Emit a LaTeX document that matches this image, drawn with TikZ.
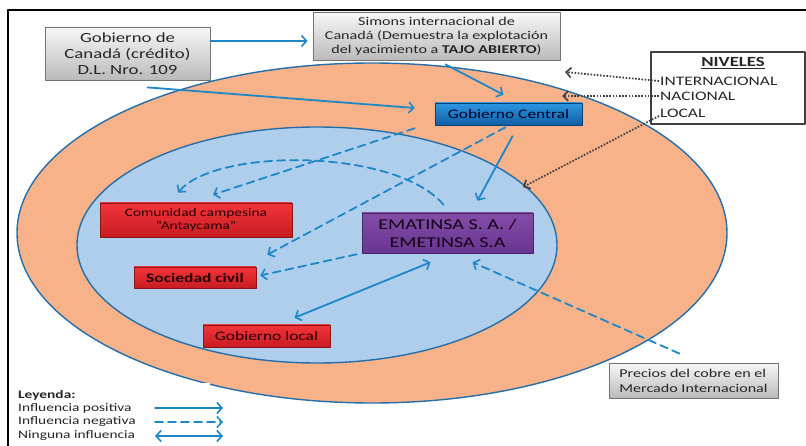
\documentclass[tikz,border=0pt]{standalone}
\usepackage{fontspec}
\setmainfont{Carlito}[FakeStretch=1.34]
\usetikzlibrary{arrows.meta,shadows}

\definecolor{naranja}{RGB}{248,178,138}
\definecolor{celeste}{RGB}{174,206,235}
\definecolor{borde}{RGB}{36,110,170}
\definecolor{flecha}{RGB}{30,135,200}
\definecolor{rojoA}{RGB}{242,52,58}
\definecolor{rojoB}{RGB}{200,28,34}
\definecolor{azulA}{RGB}{45,150,225}
\definecolor{azulB}{RGB}{15,95,165}
\definecolor{moradoA}{RGB}{132,76,168}
\definecolor{moradoB}{RGB}{104,54,144}

\begin{document}
\begin{tikzpicture}[x=1pt, y=-1pt, line cap=round, line join=round,
  punta/.tip={Straight Barb[length=5pt, width=11pt, line width=1.6pt]},
  caja/.style={rectangle, inner sep=0pt, align=center,
    drop shadow={shadow xshift=1.2pt, shadow yshift=-1.2pt, opacity=.35}},
  cajagris/.style={caja, draw=black!55, line width=0.8pt, top color=black!3, bottom color=black!27, text=black!85},
  cajaroja/.style={caja, draw=rojoB!70!black, line width=0.5pt, top color=rojoA, bottom color=rojoB, text=black!85!red},
  cajaazul/.style={caja, draw=azulB!70!black, line width=0.5pt, top color=azulA, bottom color=azulB, text=black!85!blue},
  cajamorada/.style={caja, draw=moradoB!70!black, line width=0.5pt, top color=moradoA, bottom color=moradoB, text=black!85!violet},
  positiva/.style={draw=flecha, line width=1.8pt, -punta},
  negativa/.style={positiva, dash pattern=on 8pt off 5pt},
  ninguna/.style={positiva, punta-punta},
  nivel/.style={draw=black!75, line width=1.8pt, dash pattern=on 1.6pt off 1.6pt, line cap=butt,
    -{Straight Barb[length=5pt, width=10pt, line width=1.6pt]}},
  texto/.style={inner sep=1pt, text=black!85}]
  \useasboundingbox (0,0) rectangle (806,446);

  % Frame of the figure
  \draw[line width=2pt] (8,446) -- (8,10) -- (806,10);

  % Levels: outer and inner ellipse
  \draw[borde, line width=1.4pt, fill=naranja] (372,233) ellipse [x radius=355, y radius=170];
  \draw[borde, line width=1.4pt, fill=celeste] (317,245) ellipse [x radius=240, y radius=118];
  \fill[white] (9,383) rectangle (210,446);

  % Actors
  \node[cajagris, minimum width=165, minimum height=53, font=\fontsize{14}{16}\selectfont] (canada) at (127.5,53.5)
    {Gobierno de\\ Canadá (crédito)\\ D.L. Nro. 109};
  \node[cajagris, minimum width=247, minimum height=48, font=\fontsize{12}{14}\selectfont] (simons) at (436.5,36)
    {Simons internacional de\\ Canadá (Demuestra la explotación\\ del yacimiento a \textbf{TAJO ABIERTO})};
  \node[cajaazul, minimum width=147, minimum height=22, font=\fontsize{13}{15}\selectfont] (central) at (508.5,114)
    {Gobierno Central};
  \node[cajamorada, minimum width=171, minimum height=40, font=\fontsize{15}{18}\selectfont] (ematinsa) at (447.5,233)
    {EMATINSA S. A. /\\ EMETINSA S.A};
  \node[cajaroja, minimum width=192, minimum height=34, font=\fontsize{11.5}{13}\selectfont] (comunidad) at (196,220)
    {Comunidad campesina\\ “Antaycama”};
  \node[cajaroja, minimum width=122, minimum height=21, font=\fontsize{13}{15}\selectfont\bfseries] (sociedad) at (195,277.5)
    {Sociedad civil};
  \node[cajaroja, minimum width=127, minimum height=22, font=\fontsize{13}{15}\selectfont] (local) at (266.5,336)
    {Gobierno local};
  \node[cajagris, minimum width=169, minimum height=35, align=left, font=\fontsize{12}{15}\selectfont] (precios) at (693.5,380.5)
    {Precios del cobre en el\\ Mercado Internacional};

  % Box of levels
  \node[draw=black!75, line width=1.2pt, fill=white, minimum width=154, minimum height=72,
    drop shadow={shadow xshift=1pt, shadow yshift=-1pt, opacity=.3}] (niveles) at (728,88) {};
  \node[texto, font=\fontsize{14}{16}\selectfont\bfseries] (nivtit) at (733,63) {\underline{NIVELES}};
  \node[texto, anchor=west, font=\fontsize{13}{15}\selectfont] (lvint) at (659,81) {INTERNACIONAL};
  \node[texto, anchor=west, font=\fontsize{13}{15}\selectfont] (lvnac) at (659,96) {NACIONAL};
  \node[texto, anchor=west, font=\fontsize{13}{15}\selectfont] (lvloc) at (659,113) {LOCAL};
  \coordinate (intl) at (565,72);
  \coordinate (nacl) at (562,96);
  \coordinate (locl) at (523,187);
  \draw[nivel] (lvint.west) -- (intl);
  \draw[nivel] (lvnac.west) -- (nacl);
  \draw[nivel] ([yshift=-3pt]lvloc.west) -- (locl);

  % Positive influence
  \draw[positiva] ([yshift=12.5pt]canada.east) -- ([xshift=-5pt, yshift=-5pt]simons.west);
  \draw[positiva] ([xshift=20pt, yshift=-7pt]canada.south) -- ([xshift=-20pt, yshift=6pt]central.west);
  \draw[positiva] ([xshift=9pt, yshift=-4pt]simons.south) -- ([xshift=-5pt, yshift=8pt]central.north);
  \draw[positiva] ([xshift=4pt, yshift=-11pt]central.south) -- ([xshift=30pt, yshift=12pt]ematinsa.north);

  % Negative influence (dashed)
  \draw[negativa] ([xshift=-20pt, yshift=-3pt]central.south west) -- ([xshift=17pt, yshift=8pt]comunidad.north);
  \draw[negativa] ([xshift=-3pt, yshift=-2pt]central.south) -- ([xshift=11pt, yshift=12pt]sociedad.north east);
  \draw[negativa] ([xshift=-4pt, yshift=8pt]ematinsa.north) .. controls +(-48,-57) and +(37,-45) .. ([xshift=-18pt, yshift=10pt]comunidad.north);
  \draw[negativa] ([xshift=-5pt, yshift=-1pt]ematinsa.south west) -- ([xshift=4pt, yshift=2pt]sociedad.east);
  \draw[negativa] ([xshift=-14pt, yshift=9pt]precios.north) -- ([xshift=25pt, yshift=-9pt]ematinsa.south);

  % No influence (both ways)
  \draw[ninguna] ([xshift=28pt, yshift=7pt]local.north) -- ([xshift=-17pt, yshift=-9pt]ematinsa.south);

  % Legend
  \node[texto, anchor=west, font=\fontsize{11.5}{13}\selectfont\bfseries] (leyenda) at (17,395) {Leyenda:};
  \node[texto, anchor=west, font=\fontsize{11.5}{13}\selectfont] (legpos) at (17,408) {Influencia positiva};
  \node[texto, anchor=west, font=\fontsize{11.5}{13}\selectfont] (legneg) at (17,422) {Influencia negativa};
  \node[texto, anchor=west, font=\fontsize{11.5}{13}\selectfont] (legnada) at (17,436) {Ninguna influencia};
  \coordinate (pa) at (155,408); \coordinate (pb) at (223,408);
  \coordinate (na) at (155,422); \coordinate (nb) at (223,422);
  \coordinate (ea) at (155,436); \coordinate (eb) at (223,436);
  \draw[positiva] (pa) -- (pb);
  \draw[negativa] (na) -- (nb);
  \draw[ninguna] (ea) -- (eb);
\end{tikzpicture}
\end{document}
